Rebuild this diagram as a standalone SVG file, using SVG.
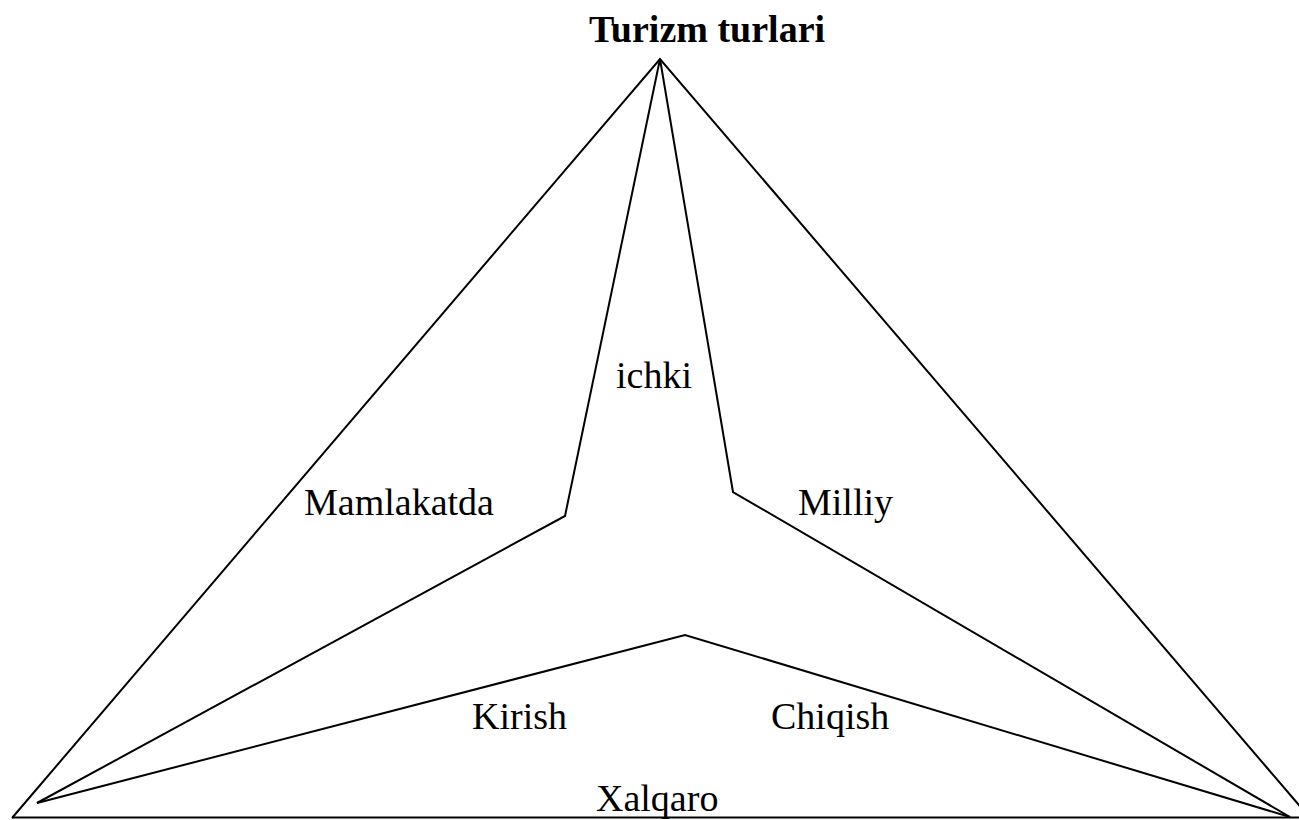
<svg xmlns="http://www.w3.org/2000/svg" width="1299" height="820" viewBox="0 0 1299 820">
<style>
.ln{fill:none;stroke:#000;stroke-width:2;stroke-linejoin:miter}
.t{font-family:"Liberation Serif","Times New Roman",serif;font-size:38px;fill:#000}
.b{font-weight:bold}
</style>
<rect width="1299" height="820" fill="#fff"/>
<g id="connectors">
<polyline class="ln" points="12,818 660,59 1310,818"/>
<line class="ln" x1="12" y1="817.5" x2="1299" y2="817.5"/>
<polyline class="ln" points="37,803 565,516 660,59 733,492 1290,817"/>
<polyline class="ln" points="37,803 685,635 1290,817"/>
</g>
<g id="title"><text class="t b" x="589" y="42">Turizm turlari</text></g>
<g id="ichki"><text class="t" x="616" y="388">ichki</text></g>
<g id="mamlakatda"><text class="t" x="304" y="515">Mamlakatda</text></g>
<g id="milliy"><text class="t" x="798" y="515">Milliy</text></g>
<g id="kirish"><text class="t" x="472" y="729">Kirish</text></g>
<g id="chiqish"><text class="t" x="771" y="729">Chiqish</text></g>
<g id="xalqaro"><text class="t" x="596" y="811">Xalqaro</text></g>
</svg>
